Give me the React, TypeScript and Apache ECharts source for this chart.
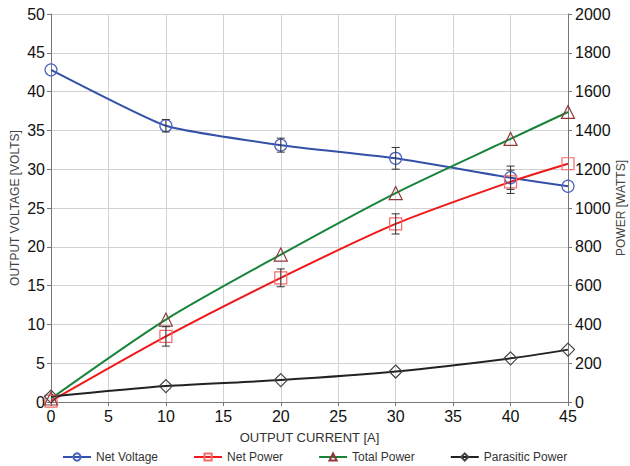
import React, { useEffect, useRef } from "react";
import * as echarts from "echarts";

const current = [0, 10, 20, 30, 40, 45];
const netVoltage = [42.8, 35.6, 33.1, 31.4, 28.9, 27.8];
const netVoltageErr = [0, 0.8, 0.9, 1.4, 1.5, 0];
const netPower = [5, 338, 640, 918, 1135, 1228];
const netPowerErr = [0, 50, 46, 52, 60, 0];
const totalPower = [18, 425, 760, 1077, 1356, 1495];
const parasiticPower = [28, 82, 113, 157, 225, 270];

const FONT = "Liberation Sans, Arial, sans-serif";

function errorData(vals: number[], errs: number[]) {
  return current
    .map((x, i) => [x, vals[i] - errs[i], vals[i] + errs[i]])
    .filter((_, i) => errs[i] > 0);
}

function renderErr(params: any, api: any) {
  const x = api.value(0);
  const lo = api.coord([x, api.value(1)]);
  const hi = api.coord([x, api.value(2)]);
  const w = 4;
  const style = { stroke: "#333", lineWidth: 1 };
  return {
    type: "group",
    children: [
      { type: "line", shape: { x1: lo[0], y1: lo[1], x2: hi[0], y2: hi[1] }, style },
      { type: "line", shape: { x1: lo[0] - w, y1: lo[1], x2: lo[0] + w, y2: lo[1] }, style },
      { type: "line", shape: { x1: hi[0] - w, y1: hi[1], x2: hi[0] + w, y2: hi[1] }, style },
    ],
  };
}

export default function App() {
  const ref = useRef<HTMLDivElement>(null);
  useEffect(() => {
    if (!ref.current) return;
    const chart = echarts.init(ref.current, undefined, { renderer: "svg" });
    const pair = (arr: number[]) => current.map((x, i) => [x, arr[i]]);
    chart.setOption({
      animation: false,
      textStyle: { fontFamily: FONT },
      grid: { left: 51, right: 62, top: 14, bottom: 64, outerBoundsMode: "none", containLabel: false },
      legend: {
        top: 446,
        left: 57,
        itemWidth: 28,
        itemHeight: 9,
        itemGap: 35,
        textStyle: { fontSize: 12, color: "#333", fontFamily: FONT },
        data: ["Net Voltage", "Net Power", "Total Power", "Parasitic Power"],
      },
      xAxis: {
        type: "value",
        min: 0,
        max: 45,
        interval: 5,
        name: "OUTPUT CURRENT [A]",
        nameLocation: "middle",
        nameGap: 29,
        nameMoveOverlap: false,
        nameTextStyle: { fontSize: 13, color: "#333" },
        axisLine: { lineStyle: { color: "#777" } },
        axisTick: { length: 4, lineStyle: { color: "#777" } },
        axisLabel: { fontSize: 16, color: "#111", margin: 6 },
        splitLine: { show: true, lineStyle: { color: "#d2d2d2" } },
      },
      yAxis: [
        {
          type: "value",
          min: 0,
          max: 50,
          interval: 5,
          name: "OUTPUT VOLTAGE [VOLTS]",
          nameLocation: "middle",
          nameGap: 30,
          nameMoveOverlap: false,
          nameTextStyle: { fontSize: 12, color: "#444" },
          axisLine: { show: true, lineStyle: { color: "#777" } },
          axisTick: { show: true, length: 4, lineStyle: { color: "#777" } },
          axisLabel: { fontSize: 16, color: "#111", margin: 6 },
          splitLine: { show: true, lineStyle: { color: "#d2d2d2" } },
        },
        {
          type: "value",
          min: 0,
          max: 2000,
          interval: 200,
          name: "POWER [WATTS]",
          nameLocation: "middle",
          nameGap: 47,
          nameMoveOverlap: false,
          nameTextStyle: { fontSize: 12, color: "#444" },
          axisLine: { show: true, lineStyle: { color: "#777" } },
          axisTick: { show: true, length: 4, lineStyle: { color: "#777" } },
          axisLabel: { fontSize: 16, color: "#111", margin: 7, formatter: (v: number) => String(v) },
          splitLine: { show: false },
        },
      ],
      series: [
        {
          name: "Net Voltage",
          type: "line",
          yAxisIndex: 0,
          data: pair(netVoltage),
          smooth: 0.15,
          symbol: "circle",
          symbolSize: 12,
          lineStyle: { color: "#3450a8", width: 2 },
          itemStyle: { color: "rgba(255,255,255,0)", borderColor: "#4a62c0", borderWidth: 1.2 },
          z: 3,
        },
        {
          name: "Net Power",
          type: "line",
          yAxisIndex: 1,
          data: pair(netPower),
          smooth: 0.25,
          symbol: "rect",
          symbolSize: 12,
          lineStyle: { color: "#f01818", width: 2 },
          itemStyle: { color: "rgba(255,255,255,0)", borderColor: "#f56a6a", borderWidth: 1.2 },
          z: 3,
        },
        {
          name: "Total Power",
          type: "line",
          yAxisIndex: 1,
          data: pair(totalPower),
          smooth: 0.25,
          symbol: "triangle",
          symbolSize: 13,
          lineStyle: { color: "#17843a", width: 2 },
          itemStyle: { color: "rgba(255,255,255,0)", borderColor: "#8e3a3a", borderWidth: 1.2 },
          z: 3,
        },
        {
          name: "Parasitic Power",
          type: "line",
          yAxisIndex: 1,
          data: pair(parasiticPower),
          smooth: 0.25,
          symbol: "diamond",
          symbolSize: 13,
          lineStyle: { color: "#222", width: 2 },
          itemStyle: { color: "rgba(255,255,255,0)", borderColor: "#444", borderWidth: 1.2 },
          z: 3,
        },
        {
          name: "Net Voltage Error",
          type: "custom",
          yAxisIndex: 0,
          renderItem: renderErr,
          data: errorData(netVoltage, netVoltageErr),
          z: 4,
        },
        {
          name: "Net Power Error",
          type: "custom",
          yAxisIndex: 1,
          renderItem: renderErr,
          data: errorData(netPower, netPowerErr),
          z: 4,
        },
      ],
    });
    return () => chart.dispose();
  }, []);
  return <div ref={ref} style={{ width: 630, height: 466, position: "absolute", left: 0, top: 0 }} />;
}
